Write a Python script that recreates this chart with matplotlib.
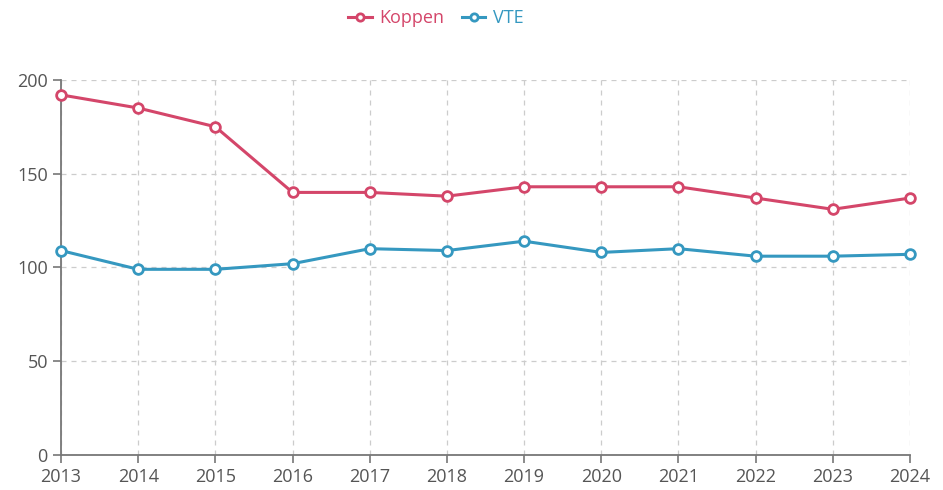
import matplotlib
matplotlib.use("Agg")
import matplotlib.pyplot as plt

plt.rcParams["font.family"] = ["Open Sans", "DejaVu Sans"]

# data
years  = [2013, 2014, 2015, 2016, 2017, 2018, 2019, 2020, 2021, 2022, 2023, 2024]
koppen = [192, 185, 175, 140, 140, 138, 143, 143, 143, 137, 131, 137]
vte    = [109, 99, 99, 102, 110, 109, 114, 108, 110, 106, 106, 107]
y_ticks = [0, 50, 100, 150, 200]

RED  = "#d4466a"
BLUE = "#3598c0"

fig = plt.figure(figsize=(9.43, 4.90), dpi=100)
ax = fig.add_axes([0.0647, 0.0714, 0.9003, 0.7656])

style = dict(lw=2.2, marker="o", ms=7, mfc="white", mew=2.0, clip_on=False, zorder=3)
ax.plot(years, koppen, color=RED, label="Koppen", **style)
ax.plot(years, vte, color=BLUE, label="VTE", **style)

ax.set_xlim(years[0], years[-1])
ax.set_ylim(0, 200)
ax.set_xticks(years)
ax.set_yticks(y_ticks)
ax.grid(True, ls=(0, (4, 4)), color="#cccccc", lw=0.9)
ax.set_axisbelow(True)

for s in ("top", "right"):
    ax.spines[s].set_visible(False)
for s in ("left", "bottom"):
    ax.spines[s].set_color("#777777")
    ax.spines[s].set_linewidth(1.3)
ax.tick_params(colors="#777777", labelcolor="#555555", labelsize=13,
               length=6, width=1.2)

fig.legend(*ax.get_legend_handles_labels(), loc="center",
           bbox_to_anchor=(0.462, 1 - 18 / 490), ncol=2,
           frameon=False, fontsize=13, handlelength=1.3, columnspacing=1.0,
           handletextpad=0.4, labelcolor="linecolor", markerscale=0.75)

fig.savefig("out.png", dpi=100)
